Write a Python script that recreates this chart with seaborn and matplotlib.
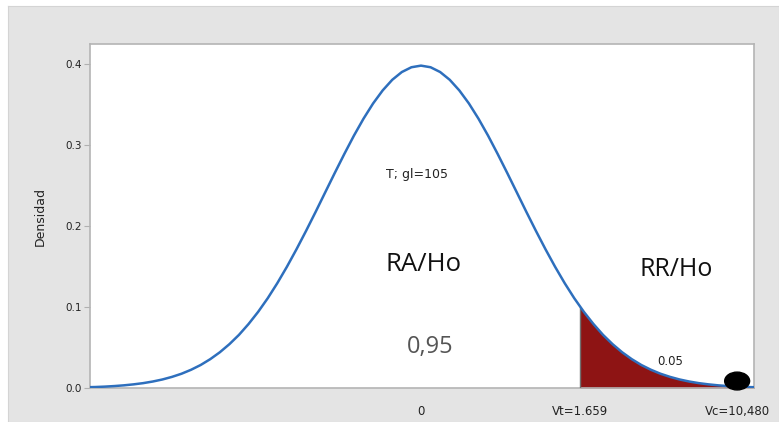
import numpy as np
import pandas as pd
import matplotlib
matplotlib.use("Agg")
import matplotlib.pyplot as plt
from matplotlib.patches import Ellipse
import seaborn as sns

# Distribución T con gl=105 (densidades)
t_valores = [-3.5, -3.4, -3.3, -3.2, -3.1, -3.0, -2.9, -2.8, -2.7, -2.6,
             -2.5, -2.4, -2.3, -2.2, -2.1, -2.0, -1.9, -1.8, -1.7, -1.6,
             -1.5, -1.4, -1.3, -1.2, -1.1, -1.0, -0.9, -0.8, -0.7, -0.6,
             -0.5, -0.4, -0.3, -0.2, -0.1, 0.0, 0.1, 0.2, 0.3, 0.4,
             0.5, 0.6, 0.7, 0.8, 0.9, 1.0, 1.1, 1.2, 1.3, 1.4,
             1.5, 1.6, 1.7, 1.8, 1.9, 2.0, 2.1, 2.2, 2.3, 2.4,
             2.5, 2.6, 2.7, 2.8, 2.9, 3.0, 3.1, 3.2, 3.3, 3.4, 3.5]
densidad = [0.0009, 0.0012, 0.0017, 0.0024, 0.0033, 0.0045, 0.0060, 0.0080, 0.0105, 0.0137,
            0.0176, 0.0225, 0.0284, 0.0356, 0.0441, 0.0541, 0.0656, 0.0790, 0.0940, 0.1108,
            0.1294, 0.1496, 0.1712, 0.1939, 0.2174, 0.2415, 0.2655, 0.2890, 0.3116, 0.3325,
            0.3513, 0.3674, 0.3805, 0.3901, 0.3960, 0.3980, 0.3960, 0.3901, 0.3805, 0.3674,
            0.3513, 0.3325, 0.3116, 0.2890, 0.2655, 0.2415, 0.2174, 0.1939, 0.1712, 0.1496,
            0.1294, 0.1108, 0.0940, 0.0790, 0.0656, 0.0541, 0.0441, 0.0356, 0.0284, 0.0225,
            0.0176, 0.0137, 0.0105, 0.0080, 0.0060, 0.0045, 0.0033, 0.0024, 0.0017, 0.0012, 0.0009]

gl = 105
valor_tabla = 1.659        # Vt
densidad_vt = 0.1005
pos_vc = 3.30              # donde se dibuja Vc en el eje
etiquetas_x = ["0", "Vt=1.659", "Vc=10,480"]
alfa = "0.05"
confianza = "0,95"

df = pd.DataFrame({"t": t_valores, "Densidad": densidad})

sns.set_style("white")
plt.rcParams["font.family"] = ["DejaVu Sans"]

fig = plt.figure(figsize=(7.79, 4.22), dpi=100, facecolor="white")
# marco gris de fondo
fondo = fig.add_axes([8 / 779, 0, 1 - 8 / 779, (422 - 6) / 422])
fondo.set_facecolor("#e4e4e4")
fondo.set_xticks([])
fondo.set_yticks([])
for s in fondo.spines.values():
    s.set_color("#d4d4d4")
fondo.set_zorder(0)

ax = fig.add_axes([90 / 779, 34 / 422, 664 / 779, 344 / 422])
ax.set_zorder(2)
ax.set_facecolor("white")

# region de rechazo
cola = df[df["t"] > valor_tabla]
x_cola = [valor_tabla] + cola["t"].tolist()
y_cola = [densidad_vt] + cola["Densidad"].tolist()
ax.fill_between(x_cola, 0, y_cola, color="#8e1414", lw=0, zorder=2)
ax.plot([valor_tabla, valor_tabla], [0, densidad_vt], color="#707070", lw=1, zorder=3)

sns.lineplot(data=df, x="t", y="Densidad", ax=ax, color="#2e6fbd", lw=1.8, zorder=4)

# punto del valor calculado (elipse como en el original)
ax.add_patch(Ellipse((pos_vc, 0.0086), 0.26, 0.022, color="black", zorder=5,
                     clip_on=False))

ax.set_xlim(-3.455, 3.476)
ax.set_ylim(0, 0.4247)
ax.set_xticks([0, valor_tabla, pos_vc])
ax.set_xticklabels(etiquetas_x, fontsize=8.5, color="#222222")
ax.set_yticks([0.0, 0.1, 0.2, 0.3, 0.4])
ax.set_yticklabels(["0.0", "0.1", "0.2", "0.3", "0.4"], fontsize=7.5, color="#222222")
ax.tick_params(axis="x", length=0, pad=12)
ax.tick_params(axis="y", length=4, width=0.8, color="#b0b0b0", pad=2, left=True)
ax.set_xlabel("")
ax.set_ylabel("Densidad", fontsize=9, color="#222222", labelpad=13)
for s in ax.spines.values():
    s.set_color("#b4b4b4")
    s.set_linewidth(1.2)

ax.text(-0.04, 0.263, f"T; gl={gl}", ha="center", va="center", fontsize=9, color="#222222")
ax.text(0.03, 0.153, "RA/Ho", ha="center", va="center", fontsize=18.5,
        family="Open Sans", color="#111111")
ax.text(2.66, 0.146, "RR/Ho", ha="center", va="center", fontsize=18,
        family="Open Sans", color="#111111")
ax.text(0.1, 0.051, confianza, ha="center", va="center", fontsize=17,
        family="Open Sans", color="#555555")
ax.text(2.6, 0.033, alfa, ha="center", va="center", fontsize=8.5, color="#222222")

fig.savefig("out.png", dpi=100, facecolor="white")
